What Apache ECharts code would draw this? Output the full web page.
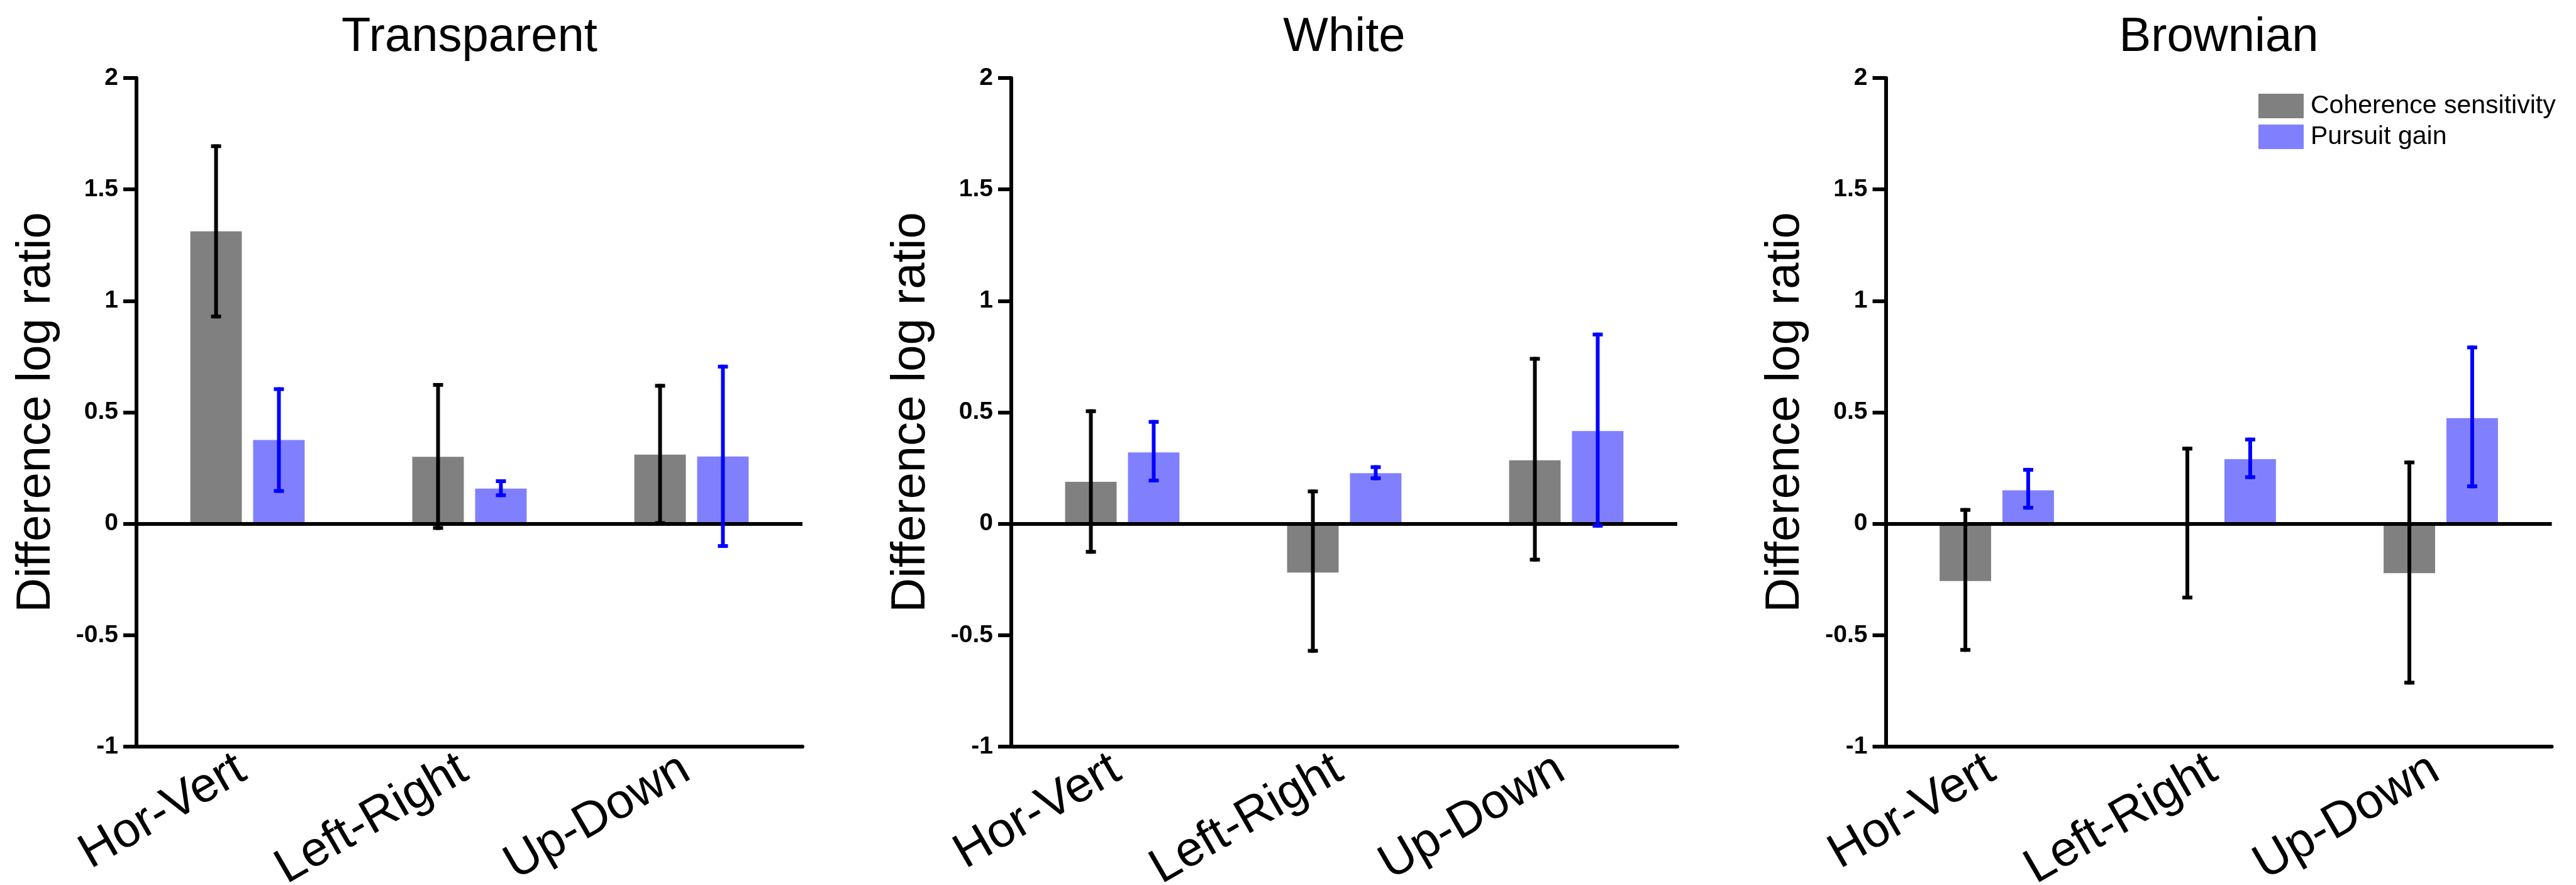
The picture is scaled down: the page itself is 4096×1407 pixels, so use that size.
<!DOCTYPE html>
<html>
<head>
<meta charset="utf-8">
<title>Difference log ratio</title>
<script src="https://cdn.jsdelivr.net/npm/echarts@6/dist/echarts.min.js"></script>
<style>
  html, body { margin: 0; padding: 0; background: #fff; }
  #chart { width: 4096px; height: 1407px; }
</style>
</head>
<body>
<div id="chart"></div>
<script>
// categories and panel names
var categories = ['Hor-Vert', 'Left-Right', 'Up-Down'];
var panelTitles = ['Transparent', 'White', 'Brownian'];
var seriesNames = ['Coherence sensitivity', 'Pursuit gain'];

// y ticks: -1 .. 2 by 0.5
var yMin = -1, yMax = 2, yStep = 0.5;

// Transparent
var cohTransparent = [1.312, 0.300, 0.310];
var cohTransparentLow = [0.930, -0.019, 0.003];
var cohTransparentHigh = [1.694, 0.623, 0.619];
var purTransparent = [0.376, 0.158, 0.302];
var purTransparentLow = [0.147, 0.128, -0.100];
var purTransparentHigh = [0.604, 0.191, 0.705];

// White
var cohWhite = [0.188, -0.219, 0.285];
var cohWhiteLow = [-0.126, -0.570, -0.161];
var cohWhiteHigh = [0.505, 0.145, 0.740];
var purWhite = [0.320, 0.227, 0.416];
var purWhiteLow = [0.194, 0.204, -0.009];
var purWhiteHigh = [0.457, 0.254, 0.849];

// Brownian
var cohBrownian = [-0.257, 0.003, -0.222];
var cohBrownianLow = [-0.566, -0.331, -0.713];
var cohBrownianHigh = [0.062, 0.337, 0.275];
var purBrownian = [0.150, 0.290, 0.474];
var purBrownianLow = [0.072, 0.209, 0.168];
var purBrownianHigh = [0.242, 0.378, 0.791];

var panels = [
  {coh: cohTransparent, cohLo: cohTransparentLow, cohHi: cohTransparentHigh,
   pur: purTransparent, purLo: purTransparentLow, purHi: purTransparentHigh},
  {coh: cohWhite, cohLo: cohWhiteLow, cohHi: cohWhiteHigh,
   pur: purWhite, purLo: purWhiteLow, purHi: purWhiteHigh},
  {coh: cohBrownian, cohLo: cohBrownianLow, cohHi: cohBrownianHigh,
   pur: purBrownian, purLo: purBrownianLow, purHi: purBrownianHigh}
];

var FONT = "'Liberation Sans', Arial, Helvetica, sans-serif";
var GRAY = '#808080', BLUE = '#8080FF';
var LW = 6;
var BAR_W = 0.232, BAR_GAP = 0.22;   // bar width / gap (fractions)
var gridLefts = [217, 1608, 2998.5];
var gridW = 1059, gridTop = 124, gridH = 1063;

function toRanges(lo, hi) {
  var out = [];
  for (var i = 0; i < lo.length; i++) out.push([i, lo[i], hi[i]]);
  return out;
}

// error bar drawn beside the bar center (sign -1 = first bar, +1 = second)
function errorBar(sign, color) {
  return function (params, api) {
    var band = api.size([1, 0])[0];
    var off = sign * band * BAR_W * (1 + BAR_GAP) / 2;
    var lo = api.coord([api.value(0), api.value(1)]);
    var hi = api.coord([api.value(0), api.value(2)]);
    var x = lo[0] + off;
    var cap = 8;
    var st = {stroke: color, lineWidth: LW, lineCap: 'butt'};
    return {
      type: 'group',
      children: [
        {type: 'line', shape: {x1: x, y1: hi[1] - LW / 2, x2: x, y2: lo[1] + LW / 2}, style: st},
        {type: 'line', shape: {x1: x - cap, y1: hi[1], x2: x + cap, y2: hi[1]}, style: st},
        {type: 'line', shape: {x1: x - cap, y1: lo[1], x2: x + cap, y2: lo[1]}, style: st}
      ]
    };
  };
}

var grids = [], xAxes = [], yAxes = [], titles = [], series = [];

panels.forEach(function (p, i) {
  grids.push({left: gridLefts[i], top: gridTop, width: gridW, height: gridH,
    containLabel: false, outerBoundsMode: 'none'});
  titles.push({
    text: panelTitles[i],
    left: gridLefts[i] + gridW / 2,
    textAlign: 'center',
    top: 22,
    padding: 0,
    textStyle: {fontFamily: FONT, fontSize: 76, fontWeight: 'normal', color: '#000'}
  });
  xAxes.push({
    type: 'category',
    gridIndex: i,
    data: categories,
    position: 'bottom',
    axisLine: {onZero: false, lineStyle: {color: '#000', width: LW}},
    axisTick: {alignWithLabel: true, length: 21, lineStyle: {color: '#000', width: LW}},
    axisLabel: {rotate: 30, margin: 26, padding: [0, 10, 0, 0], fontFamily: FONT, fontSize: 78,
      color: '#000', interval: 0},
    splitLine: {show: false}
  });
  yAxes.push({
    type: 'value',
    gridIndex: i,
    min: yMin, max: yMax, interval: yStep,
    name: 'Difference log ratio',
    nameLocation: 'middle',
    nameGap: 121,
    nameTextStyle: {fontFamily: FONT, fontSize: 76, color: '#000'},
    axisLine: {show: true, lineStyle: {color: '#000', width: LW}},
    axisTick: {show: true, length: 21, lineStyle: {color: '#000', width: LW}},
    axisLabel: {margin: 29, fontFamily: FONT, fontSize: 39, fontWeight: 'bold', color: '#000'},
    splitLine: {show: false}
  });
  series.push({
    name: seriesNames[0], type: 'bar', xAxisIndex: i, yAxisIndex: i,
    data: p.coh, barWidth: (BAR_W * 100) + '%', barGap: (BAR_GAP * 100) + '%',
    itemStyle: {color: GRAY}, z: 2
  });
  series.push({
    name: seriesNames[1], type: 'bar', xAxisIndex: i, yAxisIndex: i,
    data: p.pur, barWidth: (BAR_W * 100) + '%', barGap: (BAR_GAP * 100) + '%',
    itemStyle: {color: BLUE}, z: 2,
    markLine: {
      silent: true, symbol: 'none', z: 3,
      label: {show: false},
      lineStyle: {color: '#000', width: LW, type: 'solid'},
      emphasis: {disabled: true},
      data: [{yAxis: 0}]
    }
  });
  series.push({
    name: 'err-coh-' + i, type: 'custom', xAxisIndex: i, yAxisIndex: i,
    data: toRanges(p.cohLo, p.cohHi), encode: {x: 0, y: [1, 2]},
    renderItem: errorBar(-1, '#000'), z: 4, silent: true
  });
  series.push({
    name: 'err-pur-' + i, type: 'custom', xAxisIndex: i, yAxisIndex: i,
    data: toRanges(p.purLo, p.purHi), encode: {x: 0, y: [1, 2]},
    renderItem: errorBar(1, '#0000FF'), z: 4, silent: true
  });
});

var chart = echarts.init(document.getElementById('chart'), null, {renderer: 'canvas'});
chart.setOption({
  animation: false,
  backgroundColor: '#fff',
  title: titles,
  legend: {
    data: seriesNames,
    orient: 'vertical',
    left: 3591,
    top: 148,
    padding: 0,
    itemWidth: 72,
    itemHeight: 39,
    itemGap: 8,
    icon: 'rect',
    selectedMode: false,
    textStyle: {fontFamily: FONT, fontSize: 41, color: '#000', padding: [0, 0, 0, 6], lineHeight: 39}
  },
  grid: grids,
  xAxis: xAxes,
  yAxis: yAxes,
  series: series
});
</script>
</body>
</html>
